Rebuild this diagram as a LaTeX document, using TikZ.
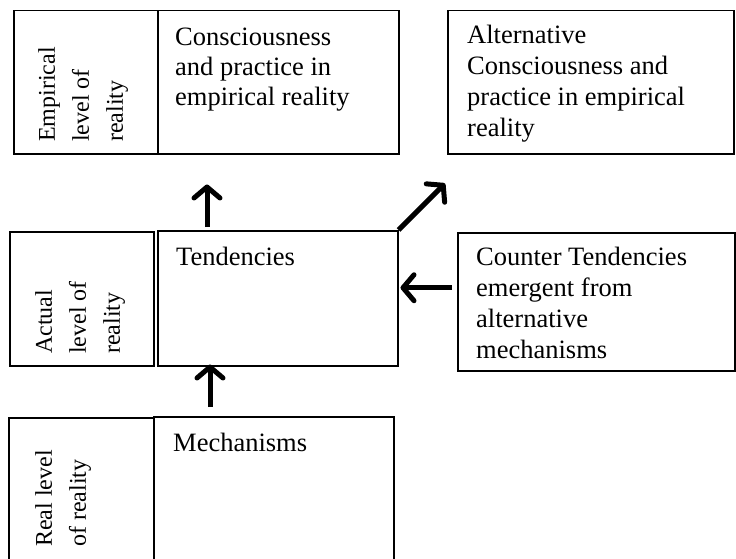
\documentclass[tikz,border=0pt]{standalone}
\usepackage{fontspec}
\setmainfont{Liberation Serif}
\usetikzlibrary{arrows.meta}
\begin{document}
\begin{tikzpicture}[x=1pt, y=-1pt,
    box/.style={draw, line width=1.5pt, inner sep=0pt, anchor=north west},
    txt/.style={anchor=north west, inner sep=0pt, align=left, font=\fontsize{26.5}{31}\selectfont},
    lbl/.style={anchor=north west, inner sep=0pt, align=left, rotate=90, font=\fontsize{24}{34}\selectfont},
    arr/.style={-{Straight Barb[length=11pt 0 0, width=26pt 0 0, line width=5pt 0 0, round]}, line width=5pt}]
  \useasboundingbox (0,0) rectangle (736,559);
  % empirical level
  \node[box, minimum width=144pt, minimum height=143pt] (emp) at (13,10) {};
  \node[box, minimum width=241pt, minimum height=143pt] (cons) at (157,10) {};
  \node[box, minimum width=286pt, minimum height=143pt] (alt) at (447,10) {};
  \node[lbl] (emptxt) at (38,142) {Empirical\\level of\\reality};
  \node[txt, font=\fontsize{26.5}{30}\selectfont] (constxt) at (175,28) {Consciousness\\and practice in\\empirical reality};
  \node[txt] (alttxt) at (467,25) {Alternative\\Consciousness and\\practice in empirical\\reality};
  % actual level
  \node[box, minimum width=144pt, minimum height=134pt] (act) at (9,231) {};
  \node[box, minimum width=240pt, minimum height=135pt] (tend) at (157,230) {};
  \node[box, minimum width=277pt, minimum height=138pt] (cntr) at (457,232) {};
  \node[lbl] (acttxt) at (35,354) {Actual\\level of\\reality};
  \node[txt] (tendtxt) at (176,247) {Tendencies};
  \node[txt] (cntrtxt) at (476,247) {Counter Tendencies\\emergent from\\alternative\\mechanisms};
  % real level
  \node[box, minimum width=145pt, minimum height=160pt] (real) at (8,417) {};
  \node[box, minimum width=240pt, minimum height=160pt] (mech) at (153,416) {};
  \node[lbl] (realtxt) at (35,547) {Real level\\of reality};
  \node[txt] (mechtxt) at (173,433) {Mechanisms};
  % arrows
  \path (cntr.west -| tend.east) coordinate (tendr);
  \path (mech.north west) ++(57,0) coordinate (mup);
  \path (mup |- tend.south) coordinate (tendb);
  \coordinate (alttip) at ([xshift=-2pt, yshift=-29pt]alt.south west);
  \draw[arr] ([xshift=50pt, yshift=3pt]tend.north west) -- ([xshift=50pt, yshift=-30pt]cons.south west);
  \draw[arr] (tend.north east) -- (alttip);
  \draw[arr] ([xshift=-5pt, yshift=14pt]cntr.west) -- ([xshift=2pt, yshift=14pt]tendr);
  \draw[arr] ([yshift=9pt]mup) -- ([yshift=2pt]tendb);
\end{tikzpicture}
\end{document}
